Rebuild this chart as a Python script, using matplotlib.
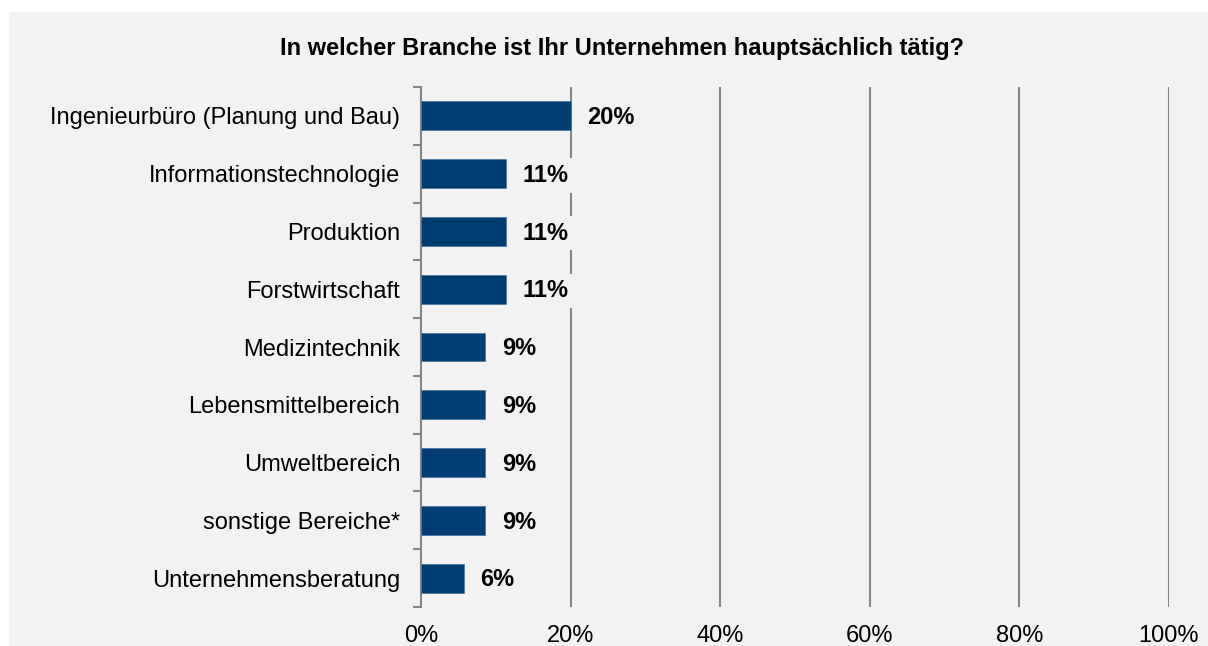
import numpy as np
import matplotlib.pyplot as plt
from matplotlib.patches import Rectangle

# data
categories = ['Ingenieurbüro (Planung und Bau)', 'Informationstechnologie', 'Produktion',
              'Forstwirtschaft', 'Medizintechnik', 'Lebensmittelbereich', 'Umweltbereich',
              'sonstige Bereiche*', 'Unternehmensberatung']
values = [20.0, 11.4, 11.4, 11.4, 8.6, 8.6, 8.6, 8.6, 5.7]
value_labels = ['20%', '11%', '11%', '11%', '9%', '9%', '9%', '9%', '6%']
x_ticks = [0, 20, 40, 60, 80, 100]
x_ticklabels = ['0%', '20%', '40%', '60%', '80%', '100%']
title = 'In welcher Branche ist Ihr Unternehmen hauptsächlich tätig?'

plt.rcParams['font.family'] = ['Liberation Sans', 'DejaVu Sans']

bg = '#f2f2f2'
grid_c = '#868686'
bar_c = '#003d73'

fig = plt.figure(figsize=(12.08, 6.46), dpi=100)
fig.patch.set_facecolor('white')
fig.patches.append(Rectangle((9/1208, 0), 1, 1 - 12/646, transform=fig.transFigure,
                             facecolor=bg, edgecolor='none', zorder=-10))

ax = fig.add_axes([421/1208, 1 - 607/646, (1169 - 421)/1208, (607 - 87)/646])
ax.set_facecolor('none')

y = np.arange(len(categories))
ax.barh(y, values, height=0.5, color=bar_c, edgecolor='#4f7aa6', linewidth=0.6, zorder=3)

for yi, v, lab in zip(y, values, value_labels):
    ax.text(v + 2.2, yi + 0.03, lab, ha='left', va='center', fontsize=17, fontweight='bold',
            zorder=4, bbox=dict(facecolor=bg, edgecolor='none', pad=4))

ax.set_xlim(0, 100)
ax.set_ylim(len(categories) - 0.5, -0.5)

# gridlines
for gx in x_ticks[1:]:
    ax.axvline(gx, color=grid_c, lw=1.5, zorder=1)

ax.set_xticks(x_ticks)
ax.set_xticklabels(x_ticklabels, fontsize=17)
ax.tick_params(axis='x', length=0, pad=13)

ax.set_yticks(y)
ax.set_yticklabels(categories, fontsize=17)
ax.tick_params(axis='y', which='major', length=0, pad=15)
ax.set_yticks(np.arange(len(categories) + 1) - 0.5, minor=True)
ax.tick_params(axis='y', which='minor', length=6, width=1.5, color=grid_c, direction='out')

for s in ['top', 'right', 'bottom']:
    ax.spines[s].set_visible(False)
ax.spines['left'].set_color(grid_c)
ax.spines['left'].set_linewidth(1.5)

fig.text(622/1208, 1 - 48/646, title, ha='center', va='center', fontsize=17, fontweight='bold')

plt.savefig('out.png', dpi=100, facecolor=fig.get_facecolor())
